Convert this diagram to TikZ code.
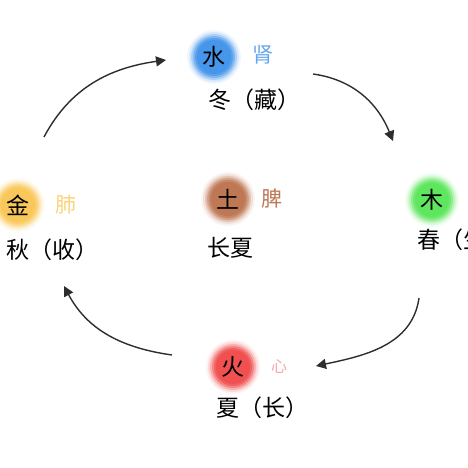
\documentclass[tikz,border=0pt]{standalone}
\usepackage{fontspec}
\newfontfamily\cjk{Noto Sans CJK SC}
\usetikzlibrary{arrows.meta}

\definecolor{shuiblue}{RGB}{70,150,235}
\definecolor{mugreen}{RGB}{95,230,95}
\definecolor{huored}{RGB}{240,80,80}
\definecolor{jinorange}{RGB}{250,200,90}
\definecolor{tubrown}{RGB}{190,120,85}
\definecolor{inkgray}{RGB}{45,45,45}

\newcommand{\glowball}[2]{%
  \foreach \r/\p in {27/8,25/22,23/45,21/70,19/90,17/100}
    \fill[#2!\p!white] #1 circle (\r);
}

\tikzset{
  element/.style={font={\cjk\fontsize{23}{23}\selectfont}, text=black},
  organ/.style={font={\cjk\fontsize{21}{21}\selectfont}},
  season/.style={font={\cjk\fontsize{23}{23}\selectfont}, text=black},
  cyclearrow/.style={draw=inkgray, line width=1.4pt, -{Triangle[length=10pt,width=10pt]}}
}

\begin{document}
\begin{tikzpicture}[x=1pt,y=1pt]
        \useasboundingbox (0,0) rectangle (468,468);
        % glowing balls
        \glowball{(214,411)}{shuiblue}
        \glowball{(432,268)}{mugreen}
        \glowball{(233,101)}{huored}
        \glowball{(18,263)}{jinorange}
        \glowball{(228,269)}{tubrown}
        % elements
        \node[element] (water) at (214,411) {水};
        \node[element] (wood) at (432,268) {木};
        \node[element] (fire) at (233,101) {火};
        \node[element] (metal) at (18,263) {金};
        \node[element] (earth) at (228,269) {土};
        % organs
        \node[organ, text=shuiblue!85!white] (kidney) at (263,413) {肾};
        \node[organ, text=huored!50!white, font={\cjk\fontsize{16}{16}\selectfont}] (heart) at (279,101) {心};
        \node[organ, text=jinorange!80!white] (lung) at (66,263) {肺};
        \node[organ, text=tubrown] (spleen) at (272,269) {脾};
        % seasons
        \node[season] (winter) at (254,368) {冬（藏）};
        \node[season, anchor=west] (spring) at (414,228) {春（生）};
        \node[season] (summer) at (262,60) {夏（长）};
        \node[season] (autumn) at (52,218) {秋（收）};
        \node[season] (latesummer) at (230,220) {长夏};
        % arrow ends
        \coordinate (a1s) at (44,331);
        \coordinate (a1e) at (166,408);
        \coordinate (a2s) at (313,394);
        \coordinate (a2e) at (393,327);
        \coordinate (a3s) at (419,170);
        \coordinate (a3e) at (316,102);
        \coordinate (a4s) at (172,113);
        \coordinate (a4e) at (64,182);
        \draw[cyclearrow] (a1s) to[out=62,in=188] (a1e);
        \draw[cyclearrow] (a2s) to[out=-8,in=112] (a2e);
        \draw[cyclearrow] (a3s) to[out=-98,in=12] (a3e);
        \draw[cyclearrow] (a4s) to[out=172,in=-62] (a4e);
    \end{tikzpicture}
\end{document}
